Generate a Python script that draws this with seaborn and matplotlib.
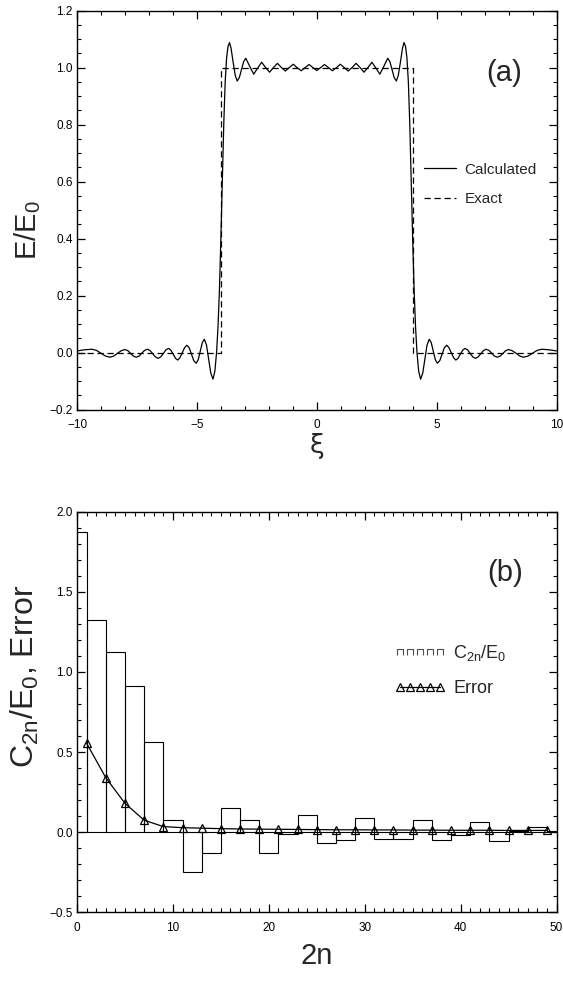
import numpy as np
import matplotlib
matplotlib.use("Agg")
import matplotlib.pyplot as plt
from matplotlib.ticker import MultipleLocator
from matplotlib.lines import Line2D
from matplotlib.path import Path
import seaborn as sns

# Panel (a): calculated field profile
xi_calc = [-10.0, -9.70, -9.38, -9.19, -9.00, -8.81, -8.62, -8.47, -8.31, -8.15,
           -8.00, -7.88, -7.77, -7.65, -7.53, -7.41, -7.30, -7.18, -7.06, -6.95,
           -6.84, -6.73, -6.62, -6.51, -6.40, -6.29, -6.18, -6.09, -5.99, -5.89,
           -5.80, -5.71, -5.61, -5.51, -5.42, -5.32, -5.225, -5.13, -5.03, -4.945,
           -4.86, -4.775, -4.69, -4.60, -4.51, -4.42, -4.33, -4.25, -4.18, -4.12,
           -4.06, -4.00, -3.94, -3.88, -3.82, -3.76, -3.70, -3.64, -3.575, -3.49,
           -3.40, -3.32, -3.23, -3.14, -3.05, -2.96, -2.80, -2.63, -2.47, -2.30,
           -2.14, -1.97, -1.81, -1.64, -1.48, -1.31, -1.15, -0.98, -0.82, -0.65,
           -0.49, -0.32, -0.16,
           0.00, 0.16, 0.32, 0.49, 0.65, 0.82, 0.98, 1.15, 1.31, 1.48,
           1.64, 1.81, 1.97, 2.14, 2.30, 2.47, 2.63, 2.80, 2.96, 3.05,
           3.14, 3.23, 3.32, 3.40, 3.49, 3.575, 3.64, 3.70, 3.76, 3.82,
           3.88, 3.94, 4.00, 4.06, 4.12, 4.18, 4.25, 4.33, 4.42, 4.51,
           4.60, 4.69, 4.775, 4.86, 4.945, 5.03, 5.13, 5.225, 5.32, 5.42,
           5.51, 5.61, 5.71, 5.80, 5.89, 5.99, 6.09, 6.18, 6.29, 6.40,
           6.51, 6.62, 6.73, 6.84, 6.95, 7.06, 7.18, 7.30, 7.41, 7.53,
           7.65, 7.77, 7.88, 8.00, 8.15, 8.31, 8.47, 8.62, 8.81, 9.00,
           9.19, 9.38, 9.70, 10.0]
e_calc = [0.006, 0.010, 0.012, 0.008, -0.002, -0.012, -0.016, -0.012, -0.002, 0.007,
          0.011, 0.007, -0.002, -0.012, -0.016, -0.012, -0.002, 0.008, 0.012, 0.007,
          -0.004, -0.015, -0.020, -0.015, -0.003, 0.010, 0.015, 0.009, -0.005, -0.020,
          -0.026, -0.018, 0.000, 0.018, 0.026, 0.017, -0.005, -0.028, -0.037, -0.025,
          0.005, 0.035, 0.047, 0.027, -0.023, -0.072, -0.093, -0.065, 0.000, 0.090,
          0.220, 0.400, 0.600, 0.800, 0.950, 1.035, 1.075, 1.088, 1.068, 1.020,
          0.973, 0.953, 0.965, 0.993, 1.021, 1.033, 1.005, 0.977, 0.998, 1.019,
          1.001, 0.984, 1.000, 1.015, 1.001, 0.988, 1.000, 1.012, 1.000, 0.989,
          1.000, 1.011, 1.000,
          0.990, 1.000, 1.011, 1.000, 0.989, 1.000, 1.012, 1.000, 0.988, 1.001,
          1.015, 1.000, 0.984, 1.001, 1.019, 0.998, 0.977, 1.005, 1.033, 1.021,
          0.993, 0.965, 0.953, 0.973, 1.020, 1.068, 1.088, 1.075, 1.035, 0.950,
          0.800, 0.600, 0.400, 0.220, 0.090, 0.000, -0.065, -0.093, -0.072, -0.023,
          0.027, 0.047, 0.035, 0.005, -0.025, -0.037, -0.028, -0.005, 0.017, 0.026,
          0.018, 0.000, -0.018, -0.026, -0.020, -0.005, 0.009, 0.015, 0.010, -0.003,
          -0.015, -0.020, -0.015, -0.004, 0.007, 0.012, 0.008, -0.002, -0.012, -0.016,
          -0.012, -0.002, 0.007, 0.011, 0.007, -0.002, -0.012, -0.016, -0.012, -0.002,
          0.008, 0.012, 0.010, 0.006]

# exact flat-top profile
xi_exact = [-10, -4, -4, 4, 4, 10]
e_exact = [0, 0, 1, 1, 0, 0]

# Panel (b): mode coefficients and error
n2 = [0, 2, 4, 6, 8, 10, 12, 14, 16, 18, 20, 22, 24,
      26, 28, 30, 32, 34, 36, 38, 40, 42, 44, 46, 48, 50]
c2n = [1.873, 1.323, 1.123, 0.914, 0.564, 0.079, -0.248, -0.133, 0.148, 0.079,
       -0.133, -0.010, 0.110, -0.067, -0.046, 0.090, -0.044, -0.040, 0.075, -0.050,
       -0.020, 0.062, -0.057, 0.010, 0.030, 0.010]
n_err = [1, 3, 5, 7, 9, 11, 13, 15, 17, 19, 21, 23, 25,
         27, 29, 31, 33, 35, 37, 39, 41, 43, 45, 47, 49]
err = [0.555, 0.340, 0.180, 0.075, 0.035, 0.028, 0.025, 0.022, 0.020, 0.019,
       0.018, 0.017, 0.016, 0.015, 0.015, 0.014, 0.014, 0.013, 0.013, 0.012,
       0.012, 0.012, 0.011, 0.011, 0.011]

sns.set_style("ticks")
plt.rcParams['font.family'] = ['Liberation Sans', 'DejaVu Sans']
plt.rcParams['mathtext.fontset'] = 'custom'
plt.rcParams['mathtext.rm'] = 'Liberation Sans'
plt.rcParams['mathtext.it'] = 'Liberation Sans'

fig = plt.figure(figsize=(5.63, 9.85), dpi=100)
ax1 = fig.add_axes([0.1368, 0.5841, 0.8517, 0.4051])
ax2 = fig.add_axes([0.1368, 0.0738, 0.8517, 0.4067])

# ---- panel (a)
sns.lineplot(x=xi_calc, y=e_calc, ax=ax1, estimator=None, sort=False,
             color='black', lw=0.9, label='Calculated')
sns.lineplot(x=xi_exact, y=e_exact, ax=ax1, estimator=None, sort=False,
             color='black', lw=0.9, ls=(0, (5, 3)), label='Exact')
ax1.set_xlim(-10, 10)
ax1.set_ylim(-0.2, 1.2)
ax1.xaxis.set_major_locator(MultipleLocator(5))
ax1.xaxis.set_minor_locator(MultipleLocator(1))
ax1.yaxis.set_major_locator(MultipleLocator(0.2))
ax1.yaxis.set_minor_locator(MultipleLocator(0.05))
ax1.set_xlabel('ξ', fontsize=19, family=['DejaVu Sans'])
ax1.set_ylabel(r'E/E$_\mathregular{0}$', fontsize=21)
ax1.xaxis.set_label_coords(0.5, -0.058)
ax1.yaxis.set_label_coords(-0.07, 0.45)
ax1.text(7.8, 0.98, '(a)', fontsize=21, ha='center', va='center')
ax1.legend(loc='center left', bbox_to_anchor=(0.724, 0.565), frameon=False,
           borderaxespad=0, borderpad=0, handlelength=2.1, handletextpad=0.55,
           labelspacing=1.0, prop={'size': 11})

# ---- panel (b)
sns.barplot(x=n2, y=c2n, ax=ax2, native_scale=True, width=1, fill=False,
            color='black', linewidth=0.8, errorbar=None)
sns.lineplot(x=n_err, y=err, ax=ax2, color='black', lw=0.9, marker='^',
             markersize=6, markerfacecolor='none', markeredgecolor='black',
             markeredgewidth=0.9)
ax2.set_xlim(0, 50)
ax2.set_ylim(-0.5, 2.0)
ax2.xaxis.set_major_locator(MultipleLocator(10))
ax2.xaxis.set_minor_locator(MultipleLocator(1))
ax2.yaxis.set_major_locator(MultipleLocator(0.5))
ax2.yaxis.set_minor_locator(MultipleLocator(0.1))
ax2.set_xlabel('2n', fontsize=21)
ax2.set_ylabel(r'C$_\mathregular{2n}$/E$_\mathregular{0}$, Error', fontsize=23)
ax2.xaxis.set_label_coords(0.5, -0.075)
ax2.yaxis.set_label_coords(-0.075, 0.59)
ax2.text(44.6, 1.62, '(b)', fontsize=21, ha='center', va='center')

cap = Path([(-1, -1), (-1, 1), (1, 1), (1, -1)],
           [Path.MOVETO, Path.LINETO, Path.LINETO, Path.LINETO])
h_c = Line2D([], [], ls='none', marker=cap, markersize=5, markerfacecolor='none',
             markeredgecolor='0.3', markeredgewidth=0.8)
h_e = Line2D([], [], color='black', lw=0.9, marker='^', markersize=6,
             markerfacecolor='none', markeredgecolor='black', markeredgewidth=0.9)
ax2.legend([h_c, h_e], [r'C$_\mathregular{2n}$/E$_\mathregular{0}$', 'Error'],
           loc='center left', bbox_to_anchor=(0.662, 0.605), frameon=False,
           borderaxespad=0, borderpad=0, numpoints=5, handlelength=2.85,
           handletextpad=0.4, labelspacing=0.95, prop={'size': 13})

for ax in (ax1, ax2):
    for s in ax.spines.values():
        s.set_linewidth(1.0)
        s.set_color('black')
    ax.tick_params(which='both', direction='in', top=True, right=True,
                   colors='black', labelsize=8.5)
    ax.tick_params(which='major', length=6, width=0.9)
    ax.tick_params(which='minor', length=3, width=0.8)
    ax.tick_params(axis='x', pad=7)
    ax.tick_params(axis='y', pad=3)

fig.savefig('out.png', dpi=100)
